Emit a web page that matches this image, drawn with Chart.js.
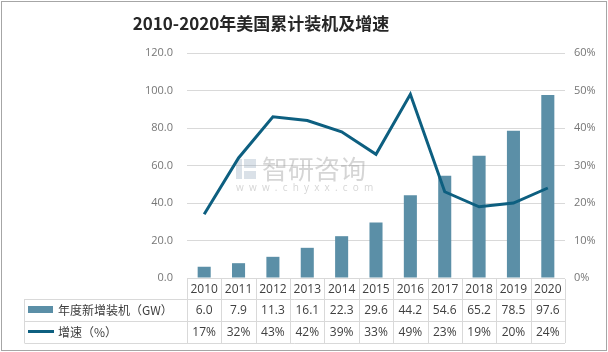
<!DOCTYPE html>
<html>
<head>
<meta charset="utf-8">
<script src="https://cdn.jsdelivr.net/npm/chart.js@4"></script>
<style>
  html, body { margin: 0; padding: 0; background: #fff; }
  #wrap { width: 608px; height: 352px; }
</style>
</head>
<body>
<div id="wrap"><canvas id="chart" width="608" height="352"></canvas></div>
<script>
// ====== Data ======
const years = ['2010', '2011', '2012', '2013', '2014', '2015', '2016', '2017', '2018', '2019', '2020'];
const newCapacity = [6.0, 7.9, 11.3, 16.1, 22.3, 29.6, 44.2, 54.6, 65.2, 78.5, 97.6];
const growthRate = [17, 32, 43, 42, 39, 33, 49, 23, 19, 20, 24];
const capacityLabel = '年度新增装机（GW）';
const growthLabel = '增速（%）';
const titleText = '2010-2020年美国累计装机及增速';

// ===== Colors =====
const colors = {
    bar: '#5b8fa7',
    line: '#0d5f80',
    grid: '#d9d9d9',
    tick: '#767676',
    text: '#404040',
    frame: '#a6a6a6'
};

const FONT = '"Open Sans", "Noto Sans CJK SC", sans-serif';
const CJK = '"Noto Sans CJK SC", "Open Sans", sans-serif';

// ===== Title, watermark, data table =====
const extras = {
    id: 'extras',
    beforeDatasetsDraw(chart) {
        const ctx = chart.ctx;
        ctx.save();
        // watermark
        ctx.fillStyle = 'rgba(150,170,190,0.35)';
        ctx.fillRect(236, 159, 6, 20);
        ctx.fillRect(244, 159, 12, 9);
        ctx.fillRect(244, 171, 12, 8);
        ctx.fillStyle = 'rgba(150,150,150,0.4)';
        ctx.font = '26px ' + CJK;
        ctx.textBaseline = 'middle';
        ctx.textAlign = 'left';
        ctx.fillText('智研咨询', 262, 169);
        ctx.font = '10px ' + FONT;
        ctx.fillText('w  w  w  .  c  h  y  x  x  .  c  o  m', 236, 188);
        ctx.restore();
    },
    afterDraw(chart) {
        const ctx = chart.ctx;
        const x = chart.scales.x;
        const n = years.length;
        const colW = (x.right - x.left) / n;
        const rows = [279, 299, 321, 343];
        const tableLeft = 24.5;

        ctx.save();
        // frame
        ctx.strokeStyle = colors.frame;
        ctx.lineWidth = 1;
        ctx.strokeRect(1.5, 1.5, 605, 349);

        // title
        ctx.fillStyle = '#262626';
        ctx.font = 'bold 17px ' + CJK;
        ctx.textAlign = 'center';
        ctx.textBaseline = 'middle';
        ctx.fillText(titleText, 261, 24);

        // table lines
        ctx.strokeStyle = colors.grid;
        ctx.beginPath();
        for (let i = 0; i <= n; i++) {
            const px = Math.round(x.left + i * colW) + 0.5;
            ctx.moveTo(px, rows[0]);
            ctx.lineTo(px, rows[3]);
        }
        for (let r = 1; r < rows.length; r++) {
            ctx.moveTo(tableLeft, rows[r] + 0.5);
            ctx.lineTo(x.right, rows[r] + 0.5);
        }
        ctx.moveTo(tableLeft, rows[1]);
        ctx.lineTo(tableLeft, rows[3]);
        ctx.stroke();

        // table text
        ctx.fillStyle = colors.text;
        ctx.font = '12px ' + FONT;
        ctx.textAlign = 'center';
        years.forEach((yr, i) => {
            const cx = x.getPixelForValue(i);
            ctx.fillText(yr, cx, (rows[0] + rows[1]) / 2 + 1);
            ctx.fillText(newCapacity[i].toFixed(1), cx, (rows[1] + rows[2]) / 2 + 1);
            ctx.fillText(growthRate[i] + '%', cx, (rows[2] + rows[3]) / 2 + 1);
        });

        // legend cells
        ctx.fillStyle = colors.bar;
        ctx.fillRect(28, 306, 25, 7);
        ctx.strokeStyle = colors.line;
        ctx.lineWidth = 3;
        ctx.beginPath();
        ctx.moveTo(28, 331.5);
        ctx.lineTo(54, 331.5);
        ctx.stroke();
        ctx.fillStyle = colors.text;
        ctx.textAlign = 'left';
        ctx.font = '12px ' + CJK;
        ctx.fillText(capacityLabel, 58, 310);
        ctx.fillText(growthLabel, 58, 332);
        ctx.restore();
    }
};

// ===== Chart =====
const ctx = document.getElementById('chart').getContext('2d');
new Chart(ctx, {
    type: 'bar',
    data: {
        labels: years,
        datasets: [
            {
                type: 'line',
                label: growthLabel,
                data: growthRate,
                yAxisID: 'y1',
                borderColor: colors.line,
                borderWidth: 3,
                pointRadius: 0,
                tension: 0,
                fill: false,
                order: 0
            },
            {
                type: 'bar',
                label: capacityLabel,
                data: newCapacity,
                yAxisID: 'y',
                backgroundColor: colors.bar,
                categoryPercentage: 1,
                barPercentage: 0.38,
                order: 1
            }
        ]
    },
    options: {
        responsive: false,
        animation: false,
        layout: { padding: { top: 53, bottom: 74, left: 0, right: 0 } },
        scales: {
            x: { display: false, offset: true },
            y: {
                position: 'left',
                min: 0,
                max: 120,
                ticks: {
                    stepSize: 20,
                    padding: 14,
                    color: colors.tick,
                    font: { size: 11, family: FONT },
                    callback: (v) => v.toFixed(1)
                },
                grid: { color: colors.grid, drawTicks: false },
                border: { display: false },
                afterFit: (s) => { s.width = 187; }
            },
            y1: {
                position: 'right',
                min: 0,
                max: 60,
                ticks: {
                    stepSize: 10,
                    padding: 9,
                    color: colors.tick,
                    font: { size: 11, family: FONT },
                    callback: (v) => v + '%'
                },
                grid: { display: false, drawTicks: false },
                border: { display: false },
                afterFit: (s) => { s.width = 43; }
            }
        },
        plugins: {
            legend: { display: false },
            tooltip: { enabled: false }
        }
    },
    plugins: [extras]
});
</script>
</body>
</html>
